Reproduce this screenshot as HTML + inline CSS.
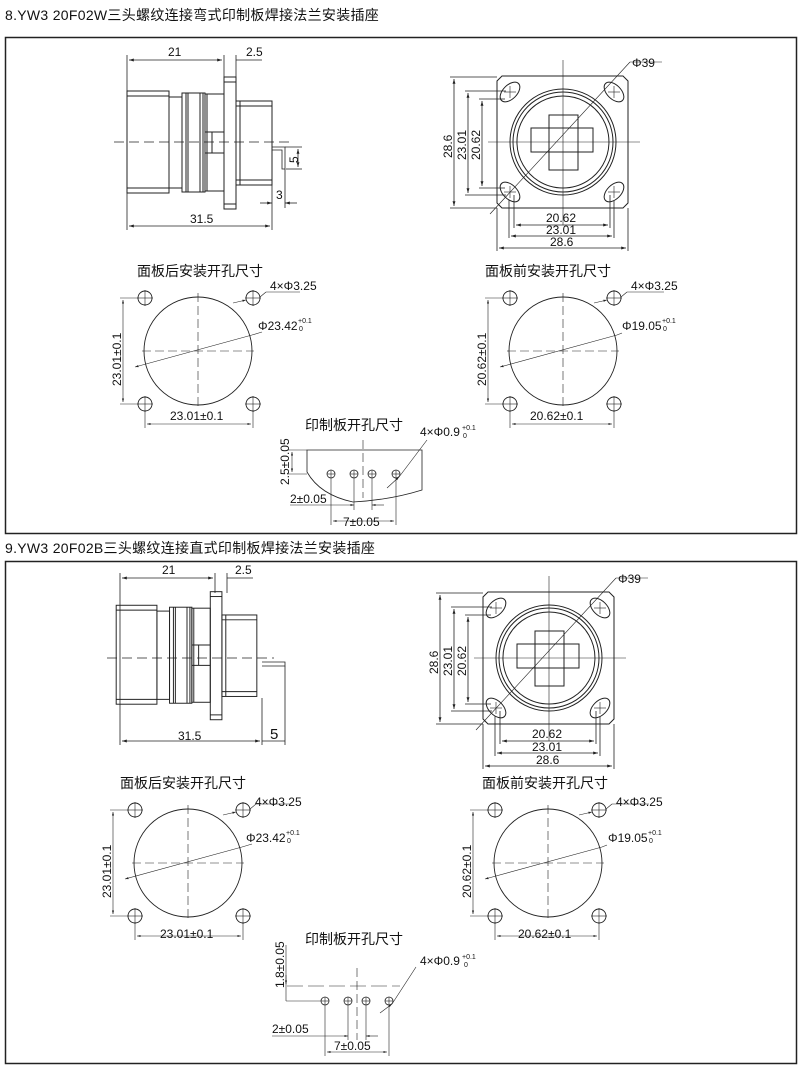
<!DOCTYPE html>
<html><head><meta charset="utf-8"><style>
body{margin:0;background:#fff;}
svg{display:block}
text{font-family:"Liberation Sans","Noto Sans CJK SC",sans-serif;fill:#111}
.h{font-size:14px;letter-spacing:0.3px}
.d{font-size:12px}
.c{font-size:14px}
.s{font-size:7px}
</style></head><body>
<svg width="800" height="1066" viewBox="0 0 800 1066" xmlns="http://www.w3.org/2000/svg">
<defs>
<marker id="a" viewBox="0 0 10 10" refX="10" refY="5" markerWidth="6" markerHeight="6" orient="auto-start-reverse"><path d="M0,2 L10,5 L0,8z" fill="#222"/></marker>
<g id="side" fill="none" stroke="#222" stroke-width="1">
 <rect x="127" y="91" width="42" height="102"/>
 <line x1="127" y1="96" x2="169" y2="96"/><line x1="127" y1="188" x2="169" y2="188"/>
 <rect x="169" y="97" width="13" height="91"/>
 <rect x="182" y="93" width="23" height="99"/>
 <line x1="186" y1="93" x2="186" y2="192"/><line x1="188" y1="93" x2="188" y2="192"/>
 <line x1="200" y1="93" x2="200" y2="192"/><line x1="203" y1="93" x2="203" y2="192"/>
 <rect x="205" y="94" width="19" height="97"/>
 <line x1="207" y1="94" x2="207" y2="191"/>
 <line x1="205" y1="132" x2="224" y2="132"/><line x1="205" y1="153" x2="224" y2="153"/>
 <line x1="212" y1="132" x2="212" y2="153"/>
 <rect x="224" y="77" width="12" height="132"/>
 <line x1="224" y1="82" x2="236" y2="82"/><line x1="224" y1="204" x2="236" y2="204"/>
 <rect x="236" y="101" width="36" height="84"/>
 <line x1="240" y1="101" x2="240" y2="185"/>
 <line x1="236" y1="106" x2="272" y2="106"/><line x1="236" y1="180" x2="272" y2="180"/>
</g>
<g id="front" fill="none" stroke="#222" stroke-width="1">
 <path d="M502,76 H623 L628,81 V203 L623,208 H502 L497,203 V81 Z"/>
 <circle cx="563" cy="142" r="53"/><circle cx="563" cy="142" r="50"/>
 <path d="M563,96 a46,46 0 1 1 -0.1,0" />
 <rect x="531" y="128" width="62" height="24"/>
 <rect x="549" y="115" width="29" height="55"/>
 <g transform="rotate(-45 510 92)"><ellipse cx="510" cy="92" rx="12" ry="7"/></g>
 <g transform="rotate(45 614 92)"><ellipse cx="614" cy="92" rx="12" ry="7"/></g>
 <g transform="rotate(45 510 192)"><ellipse cx="510" cy="192" rx="12" ry="7"/></g>
 <g transform="rotate(-45 614 192)"><ellipse cx="614" cy="192" rx="12" ry="7"/></g>
 <g stroke-width="0.6"><line x1="563" y1="60" x2="563" y2="225"/><line x1="488" y1="142" x2="640" y2="142"/>
 <line x1="490" y1="214" x2="630" y2="62"/><line x1="630" y1="62" x2="662" y2="62"/>
 <line x1="504" y1="92" x2="516" y2="92"/><line x1="510" y1="86" x2="510" y2="98"/>
 <line x1="608" y1="92" x2="620" y2="92"/><line x1="614" y1="86" x2="614" y2="98"/>
 <line x1="504" y1="192" x2="516" y2="192"/><line x1="510" y1="186" x2="510" y2="198"/>
 <line x1="608" y1="192" x2="620" y2="192"/><line x1="614" y1="186" x2="614" y2="198"/></g>
</g>
</defs>

<text x="5" y="20" class="h">8.YW3 20F02W三头螺纹连接弯式印制板焊接法兰安装插座</text>
<rect x="5.5" y="37.5" width="791" height="496" fill="none" stroke="#222" stroke-width="1.5"/>
<text x="5" y="553" class="h">9.YW3 20F02B三头螺纹连接直式印制板焊接法兰安装插座</text>
<rect x="5.5" y="561.5" width="791" height="502" fill="none" stroke="#222" stroke-width="1.5"/>

<!-- ===== TOP SIDE VIEW ===== -->
<use href="#side"/>
<g fill="none" stroke="#222" stroke-width="0.8">
 <path d="M272,147 H285 V169 H282 V150 H272" />
 <line x1="114" y1="142" x2="292" y2="142" stroke-dasharray="10,5"/>
 <line x1="127" y1="55" x2="127" y2="230"/><line x1="224" y1="55" x2="224" y2="77"/><line x1="236" y1="55" x2="236" y2="77"/>
 <line x1="129" y1="60" x2="222" y2="60" marker-start="url(#a)" marker-end="url(#a)"/>
 <line x1="236" y1="60" x2="262" y2="60"/>
 <line x1="272" y1="185" x2="272" y2="230"/>
 <line x1="129" y1="226" x2="270" y2="226" marker-start="url(#a)" marker-end="url(#a)"/>
 <line x1="285" y1="169" x2="285" y2="208"/>
 <line x1="260" y1="203" x2="272" y2="203" marker-end="url(#a)"/><line x1="285" y1="203" x2="297" y2="203" marker-start="url(#a)"/>
 <line x1="285" y1="147" x2="302" y2="147"/><line x1="286" y1="169" x2="302" y2="169"/>
 <line x1="298" y1="149" x2="298" y2="167" marker-start="url(#a)" marker-end="url(#a)"/>
</g>
<text x="168" y="56" class="d">21</text><text x="246" y="56" class="d">2.5</text>
<text x="190" y="223" class="d">31.5</text><text x="276" y="199" class="d">3</text>
<text class="d" transform="translate(298,163) rotate(-90)">5</text>

<!-- ===== TOP FRONT VIEW ===== -->
<use href="#front"/>
<g fill="none" stroke="#222" stroke-width="0.8">
 <line x1="450" y1="77" x2="497" y2="77"/><line x1="450" y1="208" x2="497" y2="208"/>
 <line x1="454" y1="79" x2="454" y2="206" marker-start="url(#a)" marker-end="url(#a)"/>
 <line x1="465" y1="91" x2="506" y2="91"/><line x1="465" y1="195" x2="506" y2="195"/>
 <line x1="468" y1="93" x2="468" y2="193" marker-start="url(#a)" marker-end="url(#a)"/>
 <line x1="479" y1="99" x2="505" y2="99"/><line x1="479" y1="188" x2="505" y2="188"/>
 <line x1="482" y1="101" x2="482" y2="186" marker-start="url(#a)" marker-end="url(#a)"/>
 <line x1="514" y1="195" x2="514" y2="228"/><line x1="610" y1="195" x2="610" y2="228"/>
 <line x1="516" y1="225" x2="608" y2="225" marker-start="url(#a)" marker-end="url(#a)"/>
 <line x1="509" y1="200" x2="509" y2="238"/><line x1="614" y1="200" x2="614" y2="238"/>
 <line x1="511" y1="236" x2="612" y2="236" marker-start="url(#a)" marker-end="url(#a)"/>
 <line x1="497" y1="208" x2="497" y2="251"/><line x1="628" y1="208" x2="628" y2="251"/>
 <line x1="499" y1="248" x2="626" y2="248" marker-start="url(#a)" marker-end="url(#a)"/>
</g>
<text x="632" y="67" class="d">Φ39</text>
<text x="546" y="222" class="d">20.62</text><text x="546" y="234" class="d">23.01</text><text x="550" y="246" class="d">28.6</text>
<text class="d" transform="translate(452,158) rotate(-90)">28.6</text>
<text class="d" transform="translate(466,160) rotate(-90)">23.01</text>
<text class="d" transform="translate(480,160) rotate(-90)">20.62</text>

<!-- panel cutouts top -->
<g id="pc1" fill="none" stroke="#222" stroke-width="0.9">
 <circle cx="198" cy="351" r="54"/>
 <circle cx="145" cy="298" r="7"/><circle cx="253" cy="298" r="7"/><circle cx="145" cy="404" r="7"/><circle cx="253" cy="404" r="7"/>
 <g stroke-width="0.6">
 <line x1="198" y1="293" x2="198" y2="410" stroke-dasharray="9,4"/><line x1="142" y1="351" x2="254" y2="351" stroke-dasharray="9,4"/>
 <line x1="137" y1="298" x2="153" y2="298"/><line x1="145" y1="290" x2="145" y2="306"/>
 <line x1="245" y1="298" x2="261" y2="298"/><line x1="253" y1="290" x2="253" y2="306"/>
 <line x1="137" y1="404" x2="153" y2="404"/><line x1="145" y1="396" x2="145" y2="412"/>
 <line x1="245" y1="404" x2="261" y2="404"/><line x1="253" y1="396" x2="253" y2="412"/>
 <line x1="120" y1="298" x2="138" y2="298"/><line x1="120" y1="404" x2="138" y2="404"/>
 <line x1="123" y1="300" x2="123" y2="402" marker-start="url(#a)" marker-end="url(#a)"/>
 <line x1="145" y1="411" x2="145" y2="428"/><line x1="253" y1="411" x2="253" y2="428"/>
 <line x1="147" y1="424" x2="251" y2="424" marker-start="url(#a)" marker-end="url(#a)"/>
 <line x1="233" y1="303" x2="246" y2="300" marker-end="url(#a)"/><line x1="260" y1="297" x2="266" y2="292"/><line x1="266" y1="292" x2="300" y2="292"/>
 <line x1="135" y1="367" x2="252" y2="335" marker-start="url(#a)"/><line x1="252" y1="335" x2="262" y2="332"/>
 </g>
</g>
<text x="137" y="276" class="c">面板后安装开孔尺寸</text>
<text x="270" y="290" class="d">4×Φ3.25</text>
<text x="258" y="330" class="d">Φ23.42</text><text x="298" y="323" class="s">+0.1</text><text x="299" y="331" class="s">0</text>
<text class="d" transform="translate(121,386) rotate(-90)">23.01±0.1</text>
<text x="170" y="420" class="d">23.01±0.1</text>

<g fill="none" stroke="#222" stroke-width="0.9">
 <circle cx="563" cy="351" r="54"/>
 <circle cx="510" cy="298" r="7"/><circle cx="614" cy="298" r="7"/><circle cx="510" cy="404" r="7"/><circle cx="614" cy="404" r="7"/>
 <g stroke-width="0.6">
 <line x1="563" y1="293" x2="563" y2="410" stroke-dasharray="9,4"/><line x1="507" y1="351" x2="619" y2="351" stroke-dasharray="9,4"/>
 <line x1="502" y1="298" x2="518" y2="298"/><line x1="510" y1="290" x2="510" y2="306"/>
 <line x1="606" y1="298" x2="622" y2="298"/><line x1="614" y1="290" x2="614" y2="306"/>
 <line x1="502" y1="404" x2="518" y2="404"/><line x1="510" y1="396" x2="510" y2="412"/>
 <line x1="606" y1="404" x2="622" y2="404"/><line x1="614" y1="396" x2="614" y2="412"/>
 <line x1="485" y1="298" x2="503" y2="298"/><line x1="485" y1="404" x2="503" y2="404"/>
 <line x1="488" y1="300" x2="488" y2="402" marker-start="url(#a)" marker-end="url(#a)"/>
 <line x1="510" y1="411" x2="510" y2="428"/><line x1="614" y1="411" x2="614" y2="428"/>
 <line x1="512" y1="424" x2="612" y2="424" marker-start="url(#a)" marker-end="url(#a)"/>
 <line x1="594" y1="303" x2="607" y2="300" marker-end="url(#a)"/><line x1="621" y1="297" x2="627" y2="292"/><line x1="627" y1="292" x2="664" y2="292"/>
 <line x1="500" y1="367" x2="617" y2="335" marker-start="url(#a)"/><line x1="617" y1="335" x2="622" y2="333"/>
 </g>
</g>
<text x="485" y="276" class="c">面板前安装开孔尺寸</text>
<text x="631" y="290" class="d">4×Φ3.25</text>
<text x="622" y="330" class="d">Φ19.05</text><text x="662" y="323" class="s">+0.1</text><text x="663" y="331" class="s">0</text>
<text class="d" transform="translate(486,386) rotate(-90)">20.62±0.1</text>
<text x="530" y="420" class="d">20.62±0.1</text>

<!-- PCB top -->
<g fill="none" stroke="#222" stroke-width="0.8">
 <path d="M307,450 H422 V490 Q390,500 353,502 Q320,495 307,472 Z"/>
 <circle cx="331" cy="474" r="4"/><circle cx="354" cy="474" r="4"/><circle cx="372" cy="474" r="4"/><circle cx="396" cy="474" r="4"/>
 <g stroke-width="0.6">
 <line x1="327" y1="474" x2="335" y2="474"/><line x1="331" y1="470" x2="331" y2="478"/>
 <line x1="350" y1="474" x2="358" y2="474"/><line x1="354" y1="470" x2="354" y2="478"/>
 <line x1="368" y1="474" x2="376" y2="474"/><line x1="372" y1="470" x2="372" y2="478"/>
 <line x1="392" y1="474" x2="400" y2="474"/><line x1="396" y1="470" x2="396" y2="478"/>
 <line x1="363" y1="440" x2="363" y2="498" stroke-dasharray="9,4"/>
 <line x1="288" y1="450" x2="307" y2="450"/><line x1="288" y1="474" x2="307" y2="474"/>
 <line x1="292" y1="452" x2="292" y2="472" marker-start="url(#a)" marker-end="url(#a)"/>
 <line x1="354" y1="478" x2="354" y2="510"/><line x1="372" y1="478" x2="372" y2="510"/>
 <line x1="290" y1="505" x2="354" y2="505" marker-end="url(#a)"/><line x1="372" y1="505" x2="384" y2="505" marker-start="url(#a)"/>
 <line x1="331" y1="478" x2="331" y2="525"/><line x1="396" y1="478" x2="396" y2="525"/>
 <line x1="333" y1="521" x2="394" y2="521" marker-start="url(#a)" marker-end="url(#a)"/>
 <line x1="387" y1="488" x2="399" y2="477" marker-end="url(#a)"/><line x1="399" y1="477" x2="427" y2="440"/>
 </g>
</g>
<text x="305" y="430" class="c">印制板开孔尺寸</text>
<text x="420" y="436" class="d">4×Φ0.9</text><text x="462" y="430" class="s">+0.1</text><text x="463" y="438" class="s">0</text>
<text class="d" transform="translate(289,485) rotate(-90)">2.5±0.05</text>
<text x="290" y="503" class="d">2±0.05</text>
<text x="343" y="526" class="d">7±0.05</text>

<!-- ===== BOTTOM SIDE VIEW ===== -->
<g transform="translate(-7,517) scale(0.97)"><use href="#side"/></g>
<g fill="none" stroke="#222" stroke-width="0.8">
 <path d="M262,662 H285 V666 H262"/>
 <line x1="107" y1="658" x2="274" y2="658" stroke-dasharray="10,5"/>
 <line x1="120" y1="573" x2="120" y2="745"/><line x1="215" y1="573" x2="215" y2="593"/><line x1="227" y1="573" x2="227" y2="593"/>
 <line x1="122" y1="578" x2="213" y2="578" marker-start="url(#a)" marker-end="url(#a)"/>
 <line x1="227" y1="578" x2="253" y2="578"/>
 <line x1="262" y1="698" x2="262" y2="745"/><line x1="285" y1="666" x2="285" y2="745"/>
 <line x1="122" y1="741" x2="260" y2="741" marker-start="url(#a)" marker-end="url(#a)"/>
 <line x1="262" y1="741" x2="285" y2="741"/>
</g>
<text x="162" y="574" class="d">21</text><text x="235" y="574" class="d">2.5</text>
<text x="178" y="740" class="d">31.5</text><text x="270" y="739" style="font-size:15px">5</text>

<!-- bottom front -->
<g transform="translate(-14,516)"><use href="#front"/></g>
<g fill="none" stroke="#222" stroke-width="0.8">
 <line x1="436" y1="593" x2="483" y2="593"/><line x1="436" y1="724" x2="483" y2="724"/>
 <line x1="440" y1="595" x2="440" y2="722" marker-start="url(#a)" marker-end="url(#a)"/>
 <line x1="451" y1="607" x2="492" y2="607"/><line x1="451" y1="711" x2="492" y2="711"/>
 <line x1="454" y1="609" x2="454" y2="709" marker-start="url(#a)" marker-end="url(#a)"/>
 <line x1="465" y1="615" x2="491" y2="615"/><line x1="465" y1="704" x2="491" y2="704"/>
 <line x1="468" y1="617" x2="468" y2="702" marker-start="url(#a)" marker-end="url(#a)"/>
 <line x1="500" y1="711" x2="500" y2="744"/><line x1="596" y1="711" x2="596" y2="744"/>
 <line x1="502" y1="741" x2="594" y2="741" marker-start="url(#a)" marker-end="url(#a)"/>
 <line x1="495" y1="716" x2="495" y2="756"/><line x1="600" y1="716" x2="600" y2="756"/>
 <line x1="497" y1="753" x2="598" y2="753" marker-start="url(#a)" marker-end="url(#a)"/>
 <line x1="483" y1="724" x2="483" y2="769"/><line x1="614" y1="724" x2="614" y2="769"/>
 <line x1="485" y1="766" x2="612" y2="766" marker-start="url(#a)" marker-end="url(#a)"/>
</g>
<text x="618" y="583" class="d">Φ39</text>
<text x="532" y="738" class="d">20.62</text><text x="532" y="751" class="d">23.01</text><text x="536" y="764" class="d">28.6</text>
<text class="d" transform="translate(438,674) rotate(-90)">28.6</text>
<text class="d" transform="translate(452,676) rotate(-90)">23.01</text>
<text class="d" transform="translate(466,676) rotate(-90)">20.62</text>

<!-- bottom cutouts: reuse shapes -->
<g transform="translate(-10,512)" fill="none" stroke="#222" stroke-width="0.9">
 <circle cx="198" cy="351" r="54"/>
 <circle cx="145" cy="298" r="7"/><circle cx="253" cy="298" r="7"/><circle cx="145" cy="404" r="7"/><circle cx="253" cy="404" r="7"/>
 <g stroke-width="0.6">
 <line x1="198" y1="293" x2="198" y2="410" stroke-dasharray="9,4"/><line x1="142" y1="351" x2="254" y2="351" stroke-dasharray="9,4"/>
 <line x1="137" y1="298" x2="153" y2="298"/><line x1="145" y1="290" x2="145" y2="306"/>
 <line x1="245" y1="298" x2="261" y2="298"/><line x1="253" y1="290" x2="253" y2="306"/>
 <line x1="137" y1="404" x2="153" y2="404"/><line x1="145" y1="396" x2="145" y2="412"/>
 <line x1="245" y1="404" x2="261" y2="404"/><line x1="253" y1="396" x2="253" y2="412"/>
 <line x1="120" y1="298" x2="138" y2="298"/><line x1="120" y1="404" x2="138" y2="404"/>
 <line x1="123" y1="300" x2="123" y2="402" marker-start="url(#a)" marker-end="url(#a)"/>
 <line x1="145" y1="411" x2="145" y2="428"/><line x1="253" y1="411" x2="253" y2="428"/>
 <line x1="147" y1="424" x2="251" y2="424" marker-start="url(#a)" marker-end="url(#a)"/>
 <line x1="233" y1="303" x2="246" y2="300" marker-end="url(#a)"/><line x1="260" y1="297" x2="266" y2="292"/><line x1="266" y1="292" x2="300" y2="292"/>
 <line x1="135" y1="367" x2="252" y2="335" marker-start="url(#a)"/><line x1="252" y1="335" x2="262" y2="332"/>
 </g>
</g>
<text x="120" y="788" class="c">面板后安装开孔尺寸</text>
<text x="255" y="806" class="d">4×Φ3.25</text>
<text x="246" y="842" class="d">Φ23.42</text><text x="286" y="835" class="s">+0.1</text><text x="287" y="843" class="s">0</text>
<text class="d" transform="translate(111,898) rotate(-90)">23.01±0.1</text>
<text x="160" y="938" class="d">23.01±0.1</text>

<g transform="translate(-15,512)" fill="none" stroke="#222" stroke-width="0.9">
 <circle cx="563" cy="351" r="54"/>
 <circle cx="510" cy="298" r="7"/><circle cx="614" cy="298" r="7"/><circle cx="510" cy="404" r="7"/><circle cx="614" cy="404" r="7"/>
 <g stroke-width="0.6">
 <line x1="563" y1="293" x2="563" y2="410" stroke-dasharray="9,4"/><line x1="507" y1="351" x2="619" y2="351" stroke-dasharray="9,4"/>
 <line x1="502" y1="298" x2="518" y2="298"/><line x1="510" y1="290" x2="510" y2="306"/>
 <line x1="606" y1="298" x2="622" y2="298"/><line x1="614" y1="290" x2="614" y2="306"/>
 <line x1="502" y1="404" x2="518" y2="404"/><line x1="510" y1="396" x2="510" y2="412"/>
 <line x1="606" y1="404" x2="622" y2="404"/><line x1="614" y1="396" x2="614" y2="412"/>
 <line x1="485" y1="298" x2="503" y2="298"/><line x1="485" y1="404" x2="503" y2="404"/>
 <line x1="488" y1="300" x2="488" y2="402" marker-start="url(#a)" marker-end="url(#a)"/>
 <line x1="510" y1="411" x2="510" y2="428"/><line x1="614" y1="411" x2="614" y2="428"/>
 <line x1="512" y1="424" x2="612" y2="424" marker-start="url(#a)" marker-end="url(#a)"/>
 <line x1="594" y1="303" x2="607" y2="300" marker-end="url(#a)"/><line x1="621" y1="297" x2="627" y2="292"/><line x1="627" y1="292" x2="664" y2="292"/>
 <line x1="500" y1="367" x2="617" y2="335" marker-start="url(#a)"/><line x1="617" y1="335" x2="622" y2="333"/>
 </g>
</g>
<text x="482" y="788" class="c">面板前安装开孔尺寸</text>
<text x="616" y="806" class="d">4×Φ3.25</text>
<text x="608" y="842" class="d">Φ19.05</text><text x="648" y="835" class="s">+0.1</text><text x="649" y="843" class="s">0</text>
<text class="d" transform="translate(471,898) rotate(-90)">20.62±0.1</text>
<text x="518" y="938" class="d">20.62±0.1</text>

<!-- PCB bottom -->
<g fill="none" stroke="#222" stroke-width="0.8">
 <circle cx="325" cy="1001" r="4"/><circle cx="348" cy="1001" r="4"/><circle cx="366" cy="1001" r="4"/><circle cx="389" cy="1001" r="4"/>
 <g stroke-width="0.6">
 <line x1="321" y1="1001" x2="329" y2="1001"/><line x1="325" y1="997" x2="325" y2="1005"/>
 <line x1="344" y1="1001" x2="352" y2="1001"/><line x1="348" y1="997" x2="348" y2="1005"/>
 <line x1="362" y1="1001" x2="370" y2="1001"/><line x1="366" y1="997" x2="366" y2="1005"/>
 <line x1="385" y1="1001" x2="393" y2="1001"/><line x1="389" y1="997" x2="389" y2="1005"/>
 <line x1="357" y1="968" x2="357" y2="1040" stroke-dasharray="9,4"/>
 <line x1="287" y1="986" x2="400" y2="986" stroke-dasharray="16,5"/>
 <line x1="286" y1="945" x2="286" y2="1001"/><line x1="286" y1="1001" x2="321" y2="1001"/>
 <line x1="286" y1="975" x2="286" y2="984" marker-end="url(#a)"/>
 <line x1="348" y1="1005" x2="348" y2="1040"/><line x1="366" y1="1005" x2="366" y2="1040"/>
 <line x1="272" y1="1036" x2="348" y2="1036" marker-end="url(#a)"/><line x1="366" y1="1036" x2="378" y2="1036" marker-start="url(#a)"/>
 <line x1="325" y1="1005" x2="325" y2="1056"/><line x1="389" y1="1005" x2="389" y2="1056"/>
 <line x1="327" y1="1052" x2="387" y2="1052" marker-start="url(#a)" marker-end="url(#a)"/>
 <line x1="380" y1="1013" x2="392" y2="1004" marker-end="url(#a)"/><line x1="392" y1="1004" x2="416" y2="967"/>
 </g>
</g>
<text x="305" y="944" class="c">印制板开孔尺寸</text>
<text x="420" y="965" class="d">4×Φ0.9</text><text x="462" y="959" class="s">+0.1</text><text x="464" y="967" class="s">0</text>
<text class="d" transform="translate(284,988) rotate(-90)">1.8±0.05</text>
<text x="272" y="1033" class="d">2±0.05</text>
<text x="334" y="1050" class="d">7±0.05</text>
</svg>
</body></html>
